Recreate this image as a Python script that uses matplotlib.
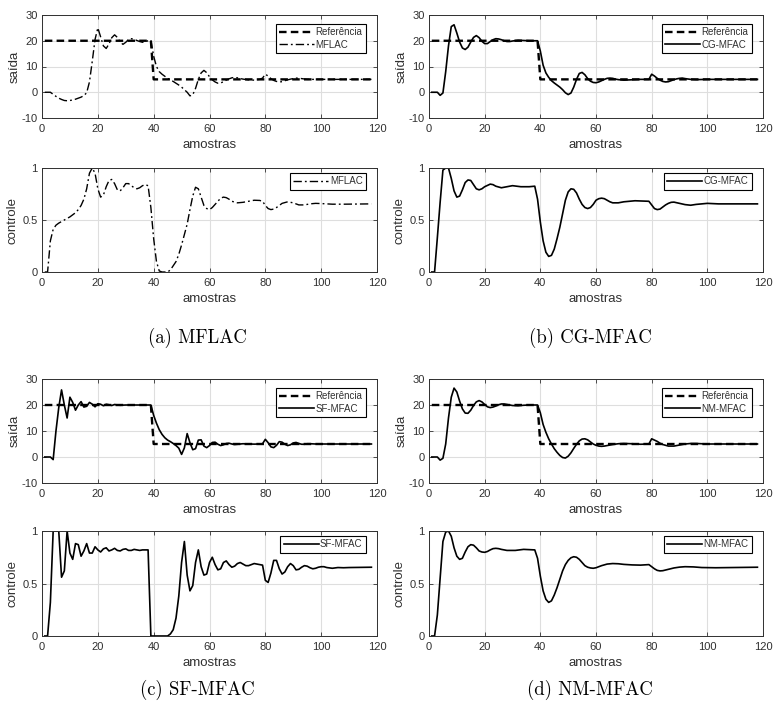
import matplotlib
matplotlib.use("Agg")
import matplotlib.pyplot as plt

# ---------------- data ----------------
ref_x = [1, 39, 40, 118]
ref_y = [20, 20, 5, 5]

mflac_y_x = [1,2,3,4,5,6,7,8,9,10,11,12,13,14,15,16,17,18,19,20,21,22,23,24,25,26,27,28,29,30,
             31,32,33,34,35,36,37,38,39,40,41,42,43,44,45,46,47,48,49,50,51,52,53,54,55,56,57,58,59,60,
             61,62,63,64,65,66,67,68,69,70,72,74,76,78,79,80,81,82,83,84,85,86,87,89,91,93,95,100,118]
mflac_y = [0,0,0,-0.8,-1.6,-2.3,-2.8,-3.2,-3.3,-3.2,-3.0,-2.7,-2.3,-1.9,-1.3,-0.2,4,12,20.5,25,
           21.5,18,17,18.8,21.2,22.3,21.3,19.5,18.6,19.4,20.5,20.8,20.6,20.1,19.7,19.4,19.6,20.0,20.3,14,
           10,8,7,6.2,5.4,4.8,4.2,3.5,2.8,2,1,0,-1.4,-1,1.5,5,7.5,8.5,7.6,6,
           4.8,4,3.5,3.6,4.1,4.7,5.2,5.6,5.8,5.6,5.1,4.8,4.7,5,5.5,7,6.3,5.3,4.6,4.2,4,4.1,4.5,5.1,5.5,5.3,5,5,5]

mflac_u_x = [1,2,3,4,5,6,8,10,12,13,14,15,16,17,18,19,20,21,22,23,24,25,26,27,28,29,30,31,32,33,34,35,
             36,37,38,39,40,41,42,43,44,45,46,47,48,49,50,51,52,53,54,55,56,57,58,59,60,61,62,63,64,65,66,
             67,68,70,72,74,76,78,79,80,81,82,83,84,85,86,88,90,92,94,96,98,100,104,108,118]
mflac_u = [0,0,0.3,0.41,0.45,0.47,0.5,0.53,0.57,0.6,0.64,0.7,0.8,0.95,1.0,0.95,0.8,0.72,0.74,0.82,0.88,
           0.89,0.85,0.79,0.78,0.81,0.85,0.85,0.83,0.81,0.8,0.81,0.83,0.84,0.83,0.62,0.32,0.1,0.01,0,0,0,
           0.02,0.06,0.1,0.17,0.26,0.36,0.46,0.6,0.73,0.815,0.8,0.72,0.64,0.61,0.6,0.62,0.65,0.68,0.71,0.72,
           0.715,0.7,0.68,0.665,0.67,0.68,0.69,0.688,0.68,0.64,0.61,0.6,0.605,0.62,0.64,0.66,0.675,0.665,
           0.645,0.645,0.655,0.66,0.658,0.652,0.652,0.655]

cg_y_x = [1,2,3,4,5,6,7,8,9,10,11,12,13,14,15,16,17,18,19,20,21,22,23,24,25,26,27,28,29,30,32,34,36,39,
          40,41,42,43,44,45,46,47,48,49,50,51,52,53,54,55,56,57,58,59,60,61,62,63,64,65,66,67,68,70,72,
          74,76,79,80,81,82,83,84,85,86,87,88,89,90,91,92,94,96,100,118]
cg_y = [0,0,0,-1.2,-0.3,8,18,25.5,26.2,23,19.5,17.2,16.6,17.5,19.5,21.3,22,21.2,19.8,18.9,18.9,19.7,20.4,
        20.8,20.7,20.4,20,19.7,19.7,19.9,20.2,20.1,20,20,16,10.5,7.5,5.8,4.5,3.6,2.8,2,1,-0.2,-0.9,-0.3,2,5,
        7.3,7.7,6.8,5.3,4.3,3.8,3.7,4,4.5,5,5.4,5.5,5.4,5.1,4.9,4.7,4.8,4.9,5,5,7,6.3,5.4,4.7,4.2,4,4.1,4.5,
        4.9,5.2,5.4,5.5,5.3,5,4.9,5,5]

cg_u_x = [1,2,3,4,5,6,7,8,9,10,11,12,13,14,15,16,17,18,19,20,22,23,24,26,28,30,33,36,38,39,40,41,42,43,
          44,45,46,47,48,49,50,51,52,53,54,55,56,57,58,59,60,61,62,63,64,65,66,68,70,72,74,76,79,80,81,82,
          83,84,85,86,87,88,90,92,94,96,98,100,104,118]
cg_u = [0,0,0.33,0.67,0.98,1.0,1.0,0.9,0.78,0.72,0.73,0.79,0.86,0.885,0.88,0.84,0.8,0.79,0.8,0.82,0.845,
        0.84,0.825,0.81,0.82,0.83,0.82,0.82,0.825,0.7,0.48,0.3,0.19,0.15,0.16,0.22,0.32,0.43,0.56,0.69,0.77,
        0.8,0.795,0.76,0.7,0.65,0.62,0.61,0.62,0.65,0.69,0.705,0.71,0.705,0.69,0.675,0.665,0.665,0.675,0.68,
        0.685,0.683,0.68,0.645,0.61,0.6,0.605,0.625,0.645,0.66,0.67,0.672,0.66,0.648,0.642,0.65,0.655,0.66,
        0.655,0.655]

sf_y_x = [1,2,3,4,5,6,7,8,9,10,11,12,13,14,15,16,17,18,19,20,21,22,23,24,25,26,27,28,30,39,
          40,41,42,43,44,45,46,47,48,49,50,51,52,53,54,55,56,57,58,59,60,61,62,63,64,65,66,67,68,69,70,
          72,74,76,78,79,80,81,82,83,84,85,86,87,88,89,90,91,92,93,94,95,96,98,118]
sf_y = [0,0,0,-1,10,19,25.8,20,15,23,21,18,20,21.3,19.2,19.5,21,20.3,19.3,20.5,20.3,19.7,20.3,20.1,19.8,
        20.2,20,19.9,20,20,16,13,10.5,8.7,7.4,6.5,5.9,5.2,4.4,3.4,1.0,3.5,9,5.5,2.8,3.2,6.5,6.6,4.2,3.6,4.4,
        5.6,5.7,4.9,4.4,4.7,5.2,5.3,5,4.8,4.9,5.1,5,4.95,5,5.1,6.8,5.5,3.9,3.6,4.5,5.9,5.7,4.9,4.4,4.7,5.4,
        5.6,5.2,4.9,4.9,5.1,5.1,5,5]

sf_u_x = [1,2,3,4,5,6,7,8,9,10,11,12,13,14,15,16,17,18,19,20,21,22,23,24,25,26,27,28,29,30,31,32,33,34,
          35,36,37,38,39,40,45,46,47,48,49,50,51,52,53,54,55,56,57,58,59,60,61,62,63,64,65,66,67,68,69,70,
          71,72,73,74,75,76,77,78,79,80,81,82,83,84,85,86,87,88,89,90,91,92,93,94,95,96,97,98,99,100,101,
          102,104,106,108,110,118]
sf_u = [0,0,0.32,1.0,1.0,1.0,0.56,0.62,1.0,0.79,0.73,0.88,0.87,0.76,0.81,0.88,0.79,0.79,0.85,0.82,0.8,
        0.83,0.84,0.81,0.82,0.835,0.815,0.81,0.825,0.83,0.815,0.815,0.825,0.82,0.815,0.82,0.82,0.82,0,0,
        0,0.02,0.06,0.17,0.38,0.7,0.9,0.58,0.43,0.48,0.7,0.82,0.66,0.58,0.59,0.7,0.75,0.68,0.63,0.64,0.7,
        0.715,0.68,0.655,0.665,0.69,0.7,0.685,0.67,0.67,0.68,0.69,0.685,0.68,0.675,0.53,0.51,0.6,0.72,0.72,
        0.64,0.59,0.61,0.66,0.69,0.67,0.63,0.635,0.655,0.67,0.665,0.65,0.64,0.645,0.655,0.66,0.66,0.652,
        0.645,0.652,0.65,0.652,0.655]

nm_y_x = [1,2,3,4,5,6,7,8,9,10,11,12,13,14,15,16,17,18,19,20,21,22,23,24,25,26,27,28,30,32,34,36,39,
          40,41,42,43,44,45,46,47,48,49,50,51,52,53,54,55,56,57,58,59,60,61,62,63,64,66,68,70,73,76,79,
          80,81,82,83,84,85,86,88,90,92,94,96,100,118]
nm_y = [0,0,0,-1.2,-0.5,5,15,23,26.5,25,21.5,18.5,16.9,16.8,18,19.8,21.2,21.7,21.2,20.2,19.3,19,19.2,19.6,
        20.1,20.4,20.4,20.2,19.8,19.7,19.9,20,20,17,12.5,9.5,7,5,3.2,1.8,0.6,-0.2,-0.4,0.3,1.6,3.3,4.9,6.2,
        6.9,7,6.6,5.8,5,4.5,4.2,4.1,4.2,4.4,4.8,5.1,5.2,5.1,4.9,5,7,6.5,6,5.3,4.8,4.5,4.2,4.2,4.6,5,5.2,5.2,
        5,5]

nm_u_x = [1,2,3,4,5,6,7,8,9,10,11,12,13,14,15,16,17,18,19,20,21,22,23,24,25,26,28,31,34,38,39,40,41,42,
          43,44,45,46,47,48,49,50,51,52,53,54,55,56,57,58,59,60,61,62,64,66,68,70,73,76,79,80,81,82,83,84,
          86,88,90,92,95,98,103,118]
nm_u = [0,0,0.2,0.55,0.9,0.99,1.0,0.95,0.84,0.76,0.73,0.74,0.8,0.85,0.87,0.865,0.84,0.81,0.8,0.797,0.805,
        0.82,0.832,0.835,0.832,0.825,0.815,0.815,0.825,0.82,0.74,0.57,0.43,0.35,0.32,0.335,0.39,0.46,0.54,
        0.62,0.68,0.72,0.745,0.755,0.75,0.73,0.7,0.67,0.655,0.648,0.645,0.65,0.66,0.67,0.685,0.69,0.688,
        0.682,0.677,0.675,0.68,0.66,0.64,0.625,0.62,0.622,0.635,0.648,0.656,0.66,0.658,0.652,0.65,0.655]

captions = ["(a) MFLAC", "(b) CG-MFAC", "(c) SF-MFAC", "(d) NM-MFAC"]
names = ["MFLAC", "CG-MFAC", "SF-MFAC", "NM-MFAC"]
ref_label = "Referência"

# ---------------- figure ----------------
W, H = 773, 706
fig = plt.figure(figsize=(W / 100, H / 100), dpi=100)
plt.rcParams['font.family'] = ['Liberation Sans', 'DejaVu Sans']

TXT = '#303030'

def px_axes(x0, x1, ytop, ybot):
    return fig.add_axes([x0 / W, 1 - ybot / H, (x1 - x0) / W, (ybot - ytop) / H])

def style(ax, kind):
    ax.set_xlim(0, 120)
    ax.set_xticks(range(0, 121, 20))
    if kind == 'y':
        ax.set_ylim(-10, 30)
        ax.set_yticks([-10, 0, 10, 20, 30])
        ax.set_yticklabels(['-10', '0', '10', '20', '30'])
        ax.set_ylabel('saída', fontsize=9.5, color=TXT, labelpad=1)
    else:
        ax.set_ylim(0, 1)
        ax.set_yticks([0, 0.5, 1])
        ax.set_yticklabels(['0', '0.5', '1'])
        ax.set_ylabel('controle', fontsize=9.5, color=TXT, labelpad=3)
    ax.set_xlabel('amostras', fontsize=9.5, color=TXT, labelpad=3.5)
    ax.grid(True, color='#dedede', linewidth=0.8)
    ax.set_axisbelow(True)
    ax.tick_params(direction='in', length=3, width=0.6, top=True, right=True,
                   labelsize=8, labelcolor=TXT, colors=TXT)
    ax.tick_params(axis='x', pad=4.5)
    ax.tick_params(axis='y', pad=3)
    for s in ax.spines.values():
        s.set_color(TXT)
        s.set_linewidth(0.7)

def legend(ax, kind):
    yoff = 0.913 if kind == 'y' else 0.952
    leg = ax.legend(loc='upper right', bbox_to_anchor=(0.967, yoff), borderaxespad=0,
                    fontsize=7, frameon=True, fancybox=False, framealpha=1,
                    edgecolor='black', handlelength=3.6, handletextpad=0.15,
                    borderpad=0.35, labelspacing=0.25)
    leg.get_frame().set_linewidth(0.8)
    for t in leg.get_texts():
        t.set_color(TXT)

cols = [(42, 377), (429, 763)]
rows = [((15, 118), (168, 272)), ((379, 483), (531, 636))]
series = [(mflac_y_x, mflac_y, mflac_u_x, mflac_u),
          (cg_y_x, cg_y, cg_u_x, cg_u),
          (sf_y_x, sf_y, sf_u_x, sf_u),
          (nm_y_x, nm_y, nm_u_x, nm_u)]
cap_pos = [(197, 338), (590, 338), (197, 690), (590, 690)]

for i in range(4):
    r, c = divmod(i, 2)
    x0, x1 = cols[c]
    (t1, b1), (t2, b2) = rows[r]
    yx, yv, ux, uv = series[i]
    ls = (0, (6, 2.2, 1.3, 2.2)) if i == 0 else '-'
    lw = 1.0 if i == 0 else 1.2

    ax1 = px_axes(x0, x1, t1, b1)
    ax1.plot(ref_x, ref_y, color='black', linewidth=1.7, linestyle=(0, (3.2, 1.8)), label=ref_label)
    ax1.plot(yx, yv, color='black', linewidth=lw, linestyle=ls, label=names[i])
    style(ax1, 'y')
    legend(ax1, 'y')

    ax2 = px_axes(x0, x1, t2, b2)
    ax2.plot(ux, uv, color='black', linewidth=lw, linestyle=ls, label=names[i])
    style(ax2, 'u')
    legend(ax2, 'u')

    cx, cy = cap_pos[i]
    fig.text(cx / W, 1 - cy / H, captions[i], ha='center', va='center',
             fontsize=13.5, family='cmr10', color='black')

fig.savefig('out.png', dpi=100)
